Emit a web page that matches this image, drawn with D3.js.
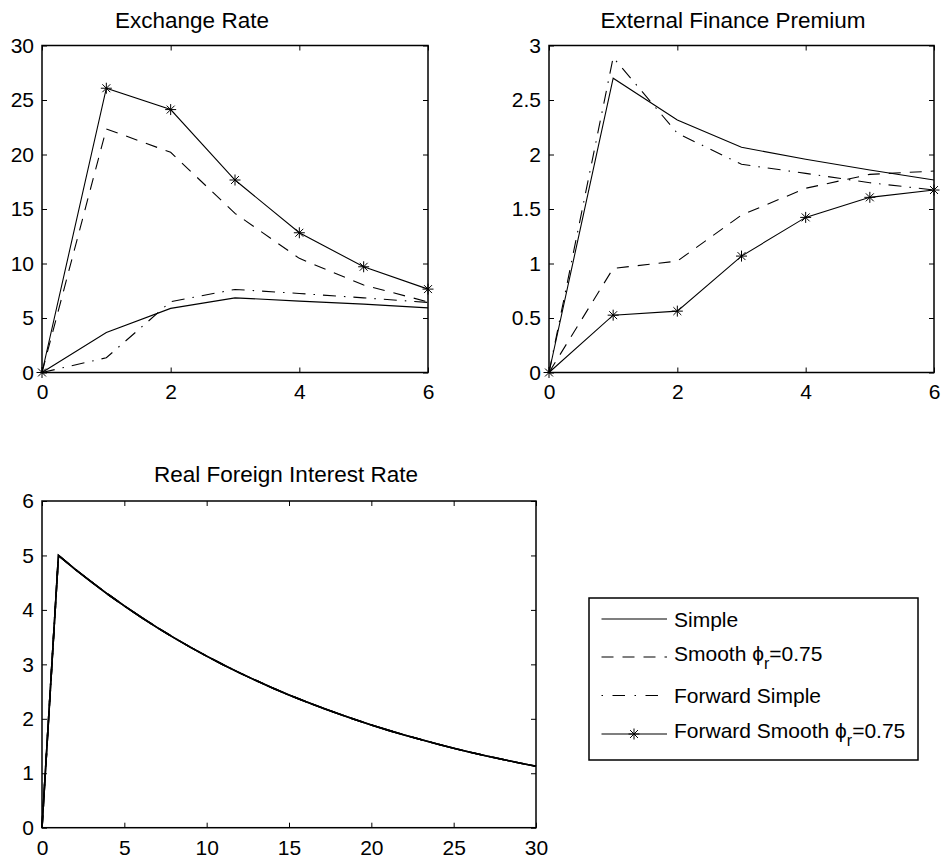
<!DOCTYPE html>
<html><head><meta charset="utf-8">
<script src="https://cdn.jsdelivr.net/npm/d3@7"></script>
<style>
body{margin:0;background:#fff;}
svg{display:block;}
text{font-family:"Liberation Sans",Arial,sans-serif;fill:#000;}
</style></head>
<body>
<svg id="chart" width="943" height="863"></svg>
<script>
// ---- data ----
const periodsShort = [0, 1, 2, 3, 4, 5, 6];
const seriesNames = ["Simple", "Smooth", "Forward Simple", "Forward Smooth"];

const exchangeSimple        = [0, 3.67, 5.88, 6.85, 6.55, 6.27, 5.93];
const exchangeSmooth        = [0, 22.35, 20.2, 14.6, 10.47, 8.02, 6.48];
const exchangeForwardSimple = [0, 1.35, 6.5, 7.62, 7.25, 6.85, 6.43];
const exchangeForwardSmooth = [0, 26.08, 24.12, 17.66, 12.82, 9.70, 7.65];

const efpSimple        = [0, 2.70, 2.317, 2.066, 1.956, 1.858, 1.766];
const efpSmooth        = [0, 0.955, 1.022, 1.444, 1.69, 1.818, 1.848];
const efpForwardSimple = [0, 2.89, 2.195, 1.91, 1.827, 1.741, 1.674];
const efpForwardSmooth = [0, 0.526, 0.563, 1.068, 1.423, 1.607, 1.674];

const periodsLong = [0,1,2,3,4,5,6,7,8,9,10,11,12,13,14,15,16,17,18,19,20,21,22,23,24,25,26,27,28,29,30];
const rateValues = [0, 5.000, 4.750, 4.513, 4.287, 4.073, 3.869, 3.675, 3.492, 3.317, 3.151,
  2.994, 2.844, 2.702, 2.567, 2.438, 2.316, 2.201, 2.091, 1.986, 1.887,
  1.792, 1.703, 1.618, 1.537, 1.460, 1.387, 1.318, 1.252, 1.189, 1.130];

const ticksShortX = [0, 2, 4, 6];
const ticksExchangeY = [0, 5, 10, 15, 20, 25, 30];
const ticksEfpY = [0, 0.5, 1, 1.5, 2, 2.5, 3];
const ticksLongX = [0, 5, 10, 15, 20, 25, 30];
const ticksRateY = [0, 1, 2, 3, 4, 5, 6];

const titles = ["Exchange Rate", "External Finance Premium", "Real Foreign Interest Rate"];
const legendLabels = [
  {main: "Simple"},
  {main: "Smooth ", phi: true, tail: "=0.75"},
  {main: "Forward Simple"},
  {main: "Forward Smooth ", phi: true, tail: "=0.75"}
];

// ---- styles ----
const styles = {
  "Simple": {dash: null, marker: false},
  "Smooth": {dash: "12,9", marker: false},
  "Forward Simple": {dash: "13,8,1.5,8", marker: false},
  "Forward Smooth": {dash: null, marker: true}
};
const FS = 21;
const TFS = 22.5;
const svg = d3.select("#chart");

function drawStar(g, x, y, r) {
  const d = r * 0.72;
  g.append("path")
    .attr("d", `M${x - r},${y}L${x + r},${y}M${x},${y - r}L${x},${y + r}M${x - d},${y - d}L${x + d},${y + d}M${x - d},${y + d}L${x + d},${y - d}`)
    .attr("stroke", "#000").attr("stroke-width", 1).attr("fill", "none");
}

function panel(cfg) {
  const x = d3.scaleLinear().domain(cfg.xDomain).range([cfg.left, cfg.right]);
  const y = d3.scaleLinear().domain(cfg.yDomain).range([cfg.bottom, cfg.top]);
  const g = svg.append("g");

  const ax = g.append("g").attr("transform", `translate(0,${cfg.bottom})`)
    .call(d3.axisBottom(x).tickValues(cfg.xTicks).tickSize(-5).tickPadding(12).tickFormat(d3.format("")));
  const axT = g.append("g").attr("transform", `translate(0,${cfg.top})`)
    .call(d3.axisTop(x).tickValues(cfg.xTicks).tickSize(-5).tickFormat(""));
  const ay = g.append("g").attr("transform", `translate(${cfg.left},0)`)
    .call(d3.axisLeft(y).tickValues(cfg.yTicks).tickSize(-5).tickPadding(8).tickFormat(d => String(d)));
  const ayR = g.append("g").attr("transform", `translate(${cfg.right},0)`)
    .call(d3.axisRight(y).tickValues(cfg.yTicks).tickSize(-5).tickFormat(""));
  [ax, axT, ay, ayR].forEach(a => {
    a.select(".domain").remove();
    a.selectAll(".tick line").attr("stroke", "#000").attr("stroke-width", 1);
    a.selectAll("text").attr("font-size", FS).attr("font-family", '"Liberation Sans",Arial,sans-serif').attr("fill", "#000");
  });

  const clipId = "clip" + cfg.id;
  g.append("clipPath").attr("id", clipId).append("rect")
    .attr("x", cfg.left - 8).attr("y", cfg.top).attr("width", cfg.right - cfg.left + 16).attr("height", cfg.bottom - cfg.top + 8);
  const lg = g.append("g").attr("clip-path", `url(#${clipId})`);
  cfg.series.forEach(s => {
    const st = styles[s.name];
    const pts = cfg.xs.map((xv, i) => [xv, s.values[i]]);
    const line = d3.line().x(d => x(d[0])).y(d => y(d[1]));
    lg.append("path").attr("d", line(pts)).attr("fill", "none")
      .attr("stroke", "#000").attr("stroke-width", cfg.lineWidth || 1.1)
      .attr("stroke-dasharray", st.dash);
    if (st.marker && cfg.markers !== false) pts.forEach(p => drawStar(lg, x(p[0]), y(p[1]), 5.5));
  });

  g.append("rect").attr("x", cfg.left).attr("y", cfg.top)
    .attr("width", cfg.right - cfg.left).attr("height", cfg.bottom - cfg.top)
    .attr("fill", "none").attr("stroke", "#000").attr("stroke-width", 1.5);

  g.append("text").attr("x", cfg.titleX).attr("y", cfg.titleY).attr("text-anchor", "middle")
    .attr("font-size", TFS).text(cfg.title);
}

panel({id: 1, left: 42, right: 428, top: 45.5, bottom: 372.5, xDomain: [0, 6], yDomain: [0, 30],
  xTicks: ticksShortX, yTicks: ticksExchangeY, xs: periodsShort, title: titles[0], titleX: 192, titleY: 28,
  series: [
    {name: "Simple", values: exchangeSimple},
    {name: "Smooth", values: exchangeSmooth},
    {name: "Forward Simple", values: exchangeForwardSimple},
    {name: "Forward Smooth", values: exchangeForwardSmooth}
  ]});

panel({id: 2, left: 549, right: 934, top: 45.5, bottom: 372.5, xDomain: [0, 6], yDomain: [0, 3],
  xTicks: ticksShortX, yTicks: ticksEfpY, xs: periodsShort, title: titles[1], titleX: 733, titleY: 28,
  series: [
    {name: "Simple", values: efpSimple},
    {name: "Smooth", values: efpSmooth},
    {name: "Forward Simple", values: efpForwardSimple},
    {name: "Forward Smooth", values: efpForwardSmooth}
  ]});

panel({id: 3, left: 42, right: 536, top: 501, bottom: 827.7, xDomain: [0, 30], yDomain: [0, 6],
  xTicks: ticksLongX, yTicks: ticksRateY, xs: periodsLong, title: titles[2], titleX: 286, titleY: 482,
  lineWidth: 1.6, markers: false,
  series: [
    {name: "Simple", values: rateValues},
    {name: "Smooth", values: rateValues},
    {name: "Forward Simple", values: rateValues},
    {name: "Forward Smooth", values: rateValues}
  ]});

// ---- legend ----
const leg = svg.append("g");
leg.append("rect").attr("x", 589).attr("y", 598).attr("width", 329).attr("height", 162)
  .attr("fill", "#fff").attr("stroke", "#000").attr("stroke-width", 1.5);
const legendRowsY = [619, 657, 695.5, 734];
seriesNames.forEach((name, i) => {
  const st = styles[name];
  const yy = legendRowsY[i];
  leg.append("line").attr("x1", 601.5).attr("x2", 667).attr("y1", yy).attr("y2", yy)
    .attr("stroke", "#000").attr("stroke-width", 1.1)
    .attr("stroke-dasharray", name === "Forward Simple" ? "1.5,9.5,12.5,9.5" : st.dash);
  if (st.marker) drawStar(leg, 634, yy, 5.5);
  const lab = legendLabels[i];
  const ty = (lab.phi ? yy - 4 : yy) + 7.5;
  const t = leg.append("text").attr("x", 674).attr("y", ty).attr("font-size", FS);
  t.append("tspan").text(lab.main);
  if (lab.phi) {
    t.append("tspan").text("\u03D5");
    t.append("tspan").attr("dy", 8).attr("font-size", 16).text("r");
    t.append("tspan").attr("dy", -8).text(lab.tail);
  }
});
</script>
</body></html>
